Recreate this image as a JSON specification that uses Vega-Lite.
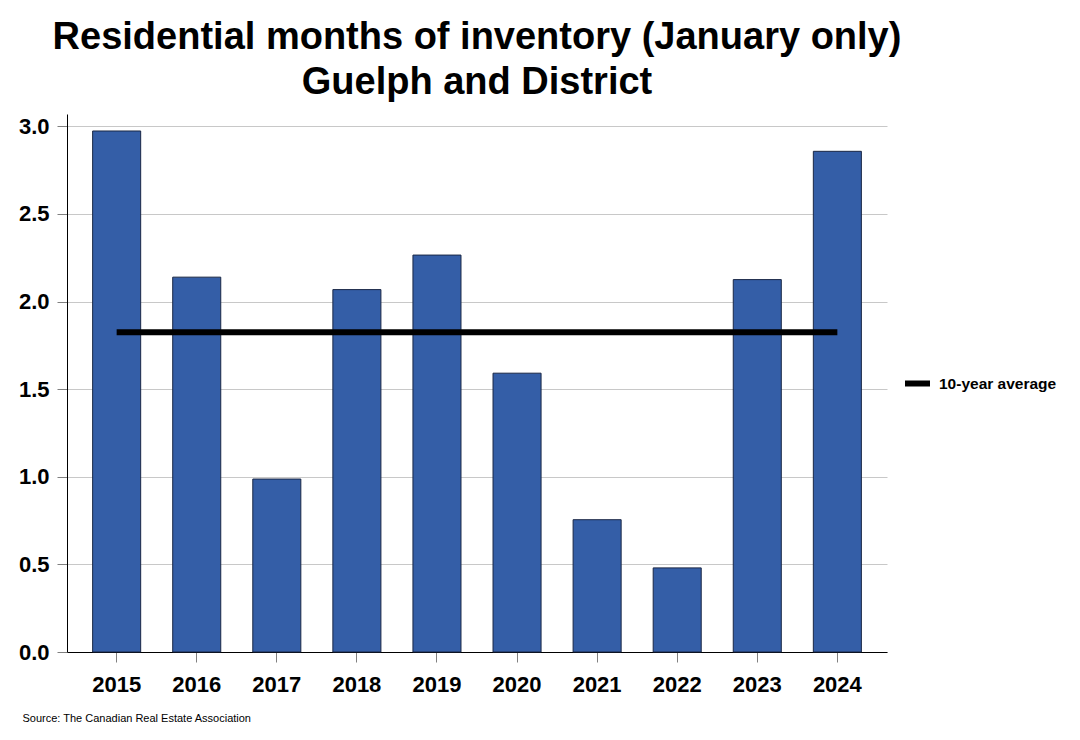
{
  "$schema": "https://vega.github.io/schema/vega-lite/v6.json",
  "width": 820,
  "height": 538,
  "autosize": {"type": "none"},
  "padding": {"left": 67, "top": 114, "right": 193, "bottom": 88},
  "background": "white",
  "config": {
    "font": "Liberation Sans",
    "view": {"stroke": null}
  },
  "title": {
    "text": ["Residential months of inventory (January only)", "Guelph and District"],
    "fontSize": 38,
    "fontWeight": "bold",
    "font": "Liberation Sans",
    "color": "black",
    "anchor": "middle",
    "lineHeight": 45,
    "offset": 12
  },
  "data": {
    "values": [
      {"year": "2015", "value": 2.973, "avg": 1.825, "series": "10-year average"},
      {"year": "2016", "value": 2.139, "avg": 1.825, "series": "10-year average"},
      {"year": "2017", "value": 0.987, "avg": 1.825, "series": "10-year average"},
      {"year": "2018", "value": 2.068, "avg": 1.825, "series": "10-year average"},
      {"year": "2019", "value": 2.265, "avg": 1.825, "series": "10-year average"},
      {"year": "2020", "value": 1.591, "avg": 1.825, "series": "10-year average"},
      {"year": "2021", "value": 0.755, "avg": 1.825, "series": "10-year average"},
      {"year": "2022", "value": 0.48, "avg": 1.825, "series": "10-year average"},
      {"year": "2023", "value": 2.125, "avg": 1.825, "series": "10-year average"},
      {"year": "2024", "value": 2.857, "avg": 1.825, "series": "10-year average"}
    ]
  },
  "encoding": {
    "x": {
      "field": "year",
      "type": "nominal",
      "scale": {"paddingInner": 0.4, "paddingOuter": 0.32},
      "axis": {
        "title": "Source: The Canadian Real Estate Association",
        "titleFontSize": 11,
        "titleFontWeight": "normal",
        "titleColor": "black",
        "titleAnchor": "start",
        "titleAlign": "left",
        "titleBaseline": "middle",
        "titleX": -45,
        "titleY": 66,
        "labelAngle": 0,
        "labelFontSize": 22,
        "labelFontWeight": "bold",
        "labelColor": "black",
        "labelPadding": 12,
        "tickColor": "#808080",
        "tickSize": 10,
        "domainColor": "black",
        "domainWidth": 1
      }
    }
  },
  "layer": [
    {
      "mark": {"type": "bar", "fill": "#345EA7", "stroke": "#1a2745", "strokeWidth": 1},
      "encoding": {
        "y": {
          "field": "value",
          "type": "quantitative",
          "scale": {"domain": [0, 3.07], "nice": false, "zero": true},
          "axis": {
            "title": null,
            "values": [0, 0.5, 1, 1.5, 2, 2.5, 3],
            "format": ".1f",
            "labelFontSize": 22,
            "labelFontWeight": "bold",
            "labelColor": "black",
            "labelPadding": 8,
            "tickColor": "#808080",
            "tickSize": 10,
            "domainColor": "black",
            "domainWidth": 1,
            "grid": true,
            "gridColor": "#c8c8c8",
            "gridWidth": 1
          }
        }
      }
    },
    {
      "mark": {"type": "line", "strokeWidth": 6},
      "encoding": {
        "y": {"field": "avg", "type": "quantitative"},
        "stroke": {
          "field": "series",
          "type": "nominal",
          "scale": {"range": ["black"]},
          "legend": {
            "title": null,
            "orient": "none",
            "legendX": 835,
            "legendY": 254,
            "padding": 0,
            "symbolType": "stroke",
            "symbolSize": 625,
            "symbolStrokeWidth": 6,
            "labelFontSize": 15.5,
            "labelFontWeight": "bold",
            "labelColor": "black",
            "labelOffset": 6
          }
        }
      }
    }
  ]
}
